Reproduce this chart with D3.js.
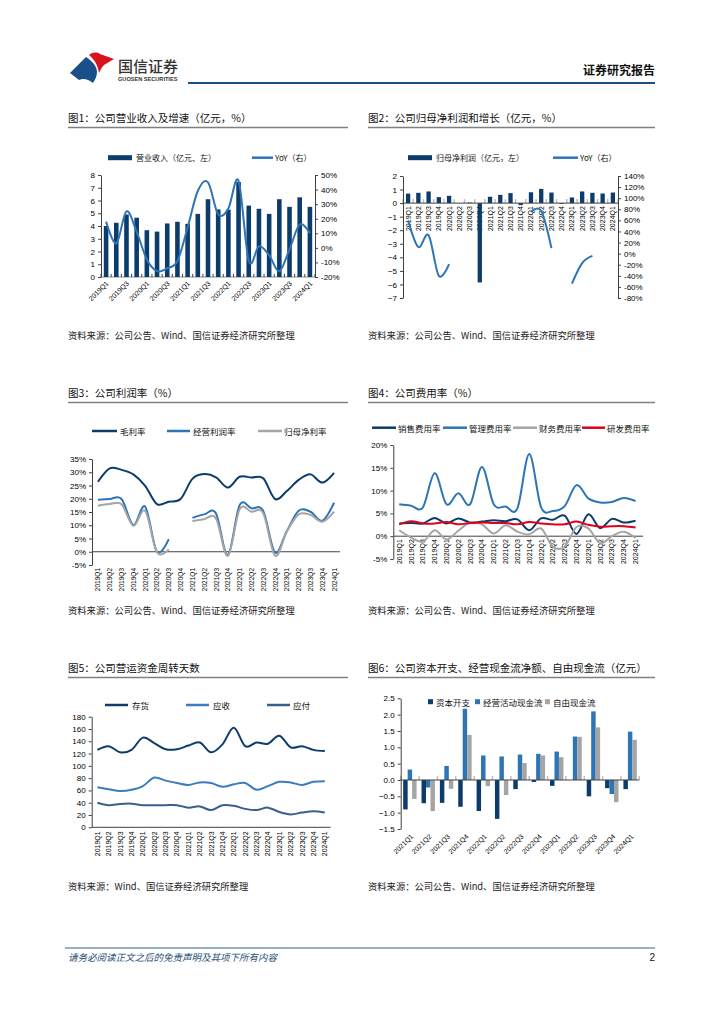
<!DOCTYPE html>
<html><head><meta charset="utf-8">
<script src="https://cdn.jsdelivr.net/npm/d3@7"></script>
<style>body{margin:0;background:#fff}svg{display:block}</style>
</head><body>
<script>
// ---------------- DATA ----------------
const quarters = ["2019Q1","2019Q2","2019Q3","2019Q4","2020Q1","2020Q2","2020Q3","2020Q4","2021Q1","2021Q2","2021Q3","2021Q4","2022Q1","2022Q2","2022Q3","2022Q4","2023Q1","2023Q2","2023Q3","2023Q4","2024Q1"];
const revenue = [4.0,4.25,4.9,4.65,3.67,3.56,4.2,4.33,4.17,4.95,6.1,5.3,5.28,7.45,5.6,5.35,4.95,6.1,5.5,6.25,5.5];
const revenueYoY = [18,3,25,11,-8,-16,-14,-9,14,39,45,23,27,46,-9,1,-5,-16,-1,16,10];
const netProfit = [0.7,0.76,0.86,0.44,0.54,0.0,0.04,-5.85,0.47,0.61,0.74,-0.15,0.8,1.05,0.78,-0.05,0.42,0.86,0.76,0.71,0.78];
const netProfitYoY = [60,12,33,-40,-19,null,null,null,null,null,null,null,75,77,10,null,-54,-17,-4,null,null];
const grossMargin = [26.4,31.5,30.9,29.2,24.9,18.0,18.9,19.9,27.5,29.3,28.1,24.2,28.3,28.0,27.7,19.9,22.9,27.1,29.2,26.1,29.8];
const opMargin = [19.6,19.9,19.9,10.1,17.0,0.0,4.8,null,12.8,14.1,14.4,-1.3,17.6,16.4,15.4,-0.3,7.8,15.5,15.1,11.7,18.5];
const netMargin = [17.4,18.0,17.9,9.8,15.4,-0.2,0.9,null,11.6,12.3,12.6,-1.6,16.0,15.1,14.5,-1.5,7.6,14.1,13.9,11.3,15.1];
const sellingRate = [2.8,2.9,2.8,4.0,2.8,3.9,3.0,3.2,3.5,3.3,3.7,1.3,3.9,3.6,4.5,0.5,4.8,1.8,3.8,3.0,3.4];
const adminRate = [7.0,6.7,6.3,13.8,7.0,9.4,7.0,15.2,7.0,6.5,6.1,18.0,6.4,5.5,6.6,11.2,8.3,7.4,7.5,8.4,7.7];
const financeRate = [1.3,-0.3,-1.2,1.3,-0.7,1.2,3.0,2.6,0.6,2.4,1.0,0.4,1.7,-2.3,-2.3,2.0,1.7,-1.5,0.0,1.0,-0.4];
const rdRate = [2.6,3.3,2.8,2.8,3.1,2.6,2.9,3.0,2.9,2.9,2.6,3.1,2.8,2.6,2.6,3.2,2.5,2.1,2.2,2.2,1.9];
const inventoryDays = [126,132,122,126,146,137,127,127,133,138,122,135,162,132,138,136,149,130,132,126,124];
const receivableDays = [65,62,59,61,67,81,76,72,69,73,72,66,70,72,61,67,74,73,69,74,75];
const payableDays = [40,36,38,38.5,36,36,36,36,32,34,28,36,35,30,28,32,25,21,24,26,24];
const cfQuarters = ["2021Q1","2021Q2","2021Q3","2021Q4","2022Q1","2022Q2","2022Q3","2022Q4","2023Q1","2023Q2","2023Q3","2023Q4","2024Q1"];
const capex = [-0.9,-0.71,-0.7,-0.82,-0.95,-1.19,-0.28,-0.06,-0.18,0,-0.5,-0.25,-0.28];
const operatingCF = [0.32,-0.23,0.43,2.18,0.75,0.72,0.78,0.8,0.87,1.33,2.1,-0.43,1.48];
const freeCF = [-0.58,-0.95,-0.27,1.38,-0.19,-0.46,0.52,0.75,0.7,1.32,1.61,-0.68,1.23];
const revTicks = [0,1,2,3,4,5,6,7,8];
const revYoYTicks = [-20,-10,0,10,20,30,40,50];
const npTicks = [-7,-6,-5,-4,-3,-2,-1,0,1,2];
const npYoYTicks = [-80,-60,-40,-20,0,20,40,60,80,100,120,140];
const marginTicks = [-5,0,5,10,15,20,25,30,35];
const expenseTicks = [-5,0,5,10,15,20];
const daysTicks = [0,20,40,60,80,100,120,140,160,180];
const cfTicks = [-1.5,-1.0,-0.5,0,0.5,1.0,1.5,2.0,2.5];

// ---------------- SETUP ----------------
const CJK = '"Noto Sans CJK SC","Noto Sans",sans-serif';
const NUM = '"Liberation Sans",Arial,sans-serif';
const NAVY = "#0c3c6c", BLUE = "#2e75b6", GRAY = "#a5a5a5", RED = "#e0001b", SLATE = "#3a5f8f", AX = "#404040";
const smooth = d3.curveCardinal.tension(0);

const svg = d3.select("body").append("svg").attr("width",724).attr("height",1024);
svg.append("rect").attr("width",724).attr("height",1024).attr("fill","#fff");

// header
svg.append("path").attr("d","M70,73 L86,57 C92,61 97,66 97,72 C97,76 95,80 93,83 C88,79 83,78 79,80 Z").attr("fill","#1b4f8a");
svg.append("path").attr("d","M89,55 C93,52 97,52 100,54 L114,59 L104,65 C101,68 100,71 99,73 C98,66 95,60 89,55 Z").attr("fill","#d7141e");
svg.append("text").attr("x",118).attr("y",72).text("国信证券").attr("font-family",CJK).attr("font-size",15).attr("font-weight",500).attr("fill","#333");
svg.append("text").attr("x",118).attr("y",81).text("GUOSEN SECURITIES").attr("font-family",NUM).attr("font-size",5.6).attr("font-weight","bold").attr("fill","#333");
svg.append("text").attr("x",655).attr("y",75).attr("text-anchor","end").text("证券研究报告").attr("font-family",CJK).attr("font-size",12).attr("font-weight","bold").attr("fill","#111");
svg.append("line").attr("x1",188).attr("x2",655).attr("y1",83).attr("y2",83).attr("stroke","#1f4e79").attr("stroke-width",2);

// footer
svg.append("line").attr("x1",65).attr("x2",655).attr("y1",948).attr("y2",948).attr("stroke","#2e5f8f").attr("stroke-width",1);
svg.append("text").attr("x",68).attr("y",961).text("请务必阅读正文之后的免责声明及其项下所有内容").attr("font-family",CJK).attr("font-size",9.5).attr("font-style","italic").attr("fill","#1f4e79");
svg.append("text").attr("x",655).attr("y",961).attr("text-anchor","end").text("2").attr("font-family",NUM).attr("font-size",10).attr("fill","#111");

function title(x, y, w, t){
  svg.append("text").attr("x",x).attr("y",y).text(t).attr("font-family",CJK).attr("font-size",10.5).attr("fill","#111");
  svg.append("line").attr("x1",x).attr("x2",x+w).attr("y1",y+5.5).attr("y2",y+5.5).attr("stroke","#808080").attr("stroke-width",1.5);
}
function source(x, y, t){
  svg.append("text").attr("x",x).attr("y",y).text(t).attr("font-family",CJK).attr("font-size",9.3).attr("fill","#222");
}
function styleAxis(g){
  g.select(".domain").attr("stroke",AX).attr("stroke-width",1);
  g.selectAll(".tick line").attr("stroke",AX);
  g.selectAll(".tick text").attr("font-family",NUM).attr("font-size",8).attr("fill","#000");
}
function legText(x,y,t,fs){
  svg.append("text").attr("x",x).attr("y",y).attr("dominant-baseline","central").text(t).attr("font-family",CJK).attr("font-size",fs||8.5).attr("fill","#111");
}
function legLine(x1,x2,y,c){
  svg.append("line").attr("x1",x1).attr("x2",x2).attr("y1",y).attr("y2",y).attr("stroke",c).attr("stroke-width",2.5);
}
function vertLabels(g, scale, cats, yTop, fs){
  g.selectAll("text.xl").data(cats).join("text").attr("class","xl")
    .attr("transform",d=>`translate(${scale(d)+scale.bandwidth()/2},${yTop}) rotate(-90)`)
    .attr("text-anchor","end").attr("dominant-baseline","central")
    .attr("font-family",NUM).attr("font-size",fs||7).attr("fill","#000").text(d=>d);
}

// ---------------- CHART 1 ----------------
title(68,122,280,"图1：公司营业收入及增速（亿元，%）");
{
  const g = svg.append("g");
  const x = d3.scaleBand().domain(quarters).range([101,315]).paddingInner(0.55).paddingOuter(0.275);
  const yL = d3.scaleLinear().domain([0,8]).range([277,175]);
  const yR = d3.scaleLinear().domain([-20,50]).range([277,175]);
  const step = x.step();
  g.append("line").attr("x1",101).attr("x2",315).attr("y1",yL(0)).attr("y2",yL(0)).attr("stroke","#8c8c8c");
  g.selectAll("line.tk").data(d3.range(22)).join("line").attr("class","tk")
    .attr("x1",i=>101+i*step).attr("x2",i=>101+i*step).attr("y1",yL(0)).attr("y2",yL(0)-3).attr("stroke",AX);
  g.selectAll("rect.b").data(revenue).join("rect").attr("class","b")
    .attr("x",(d,i)=>x(quarters[i])).attr("width",x.bandwidth())
    .attr("y",d=>yL(d)).attr("height",d=>yL(0)-yL(d)).attr("fill",NAVY);
  styleAxis(g.append("g").attr("transform","translate(101,0)").call(d3.axisLeft(yL).tickValues(revTicks).tickSize(3).tickSizeOuter(0)));
  styleAxis(g.append("g").attr("transform","translate(315,0)").call(d3.axisRight(yR).tickValues(revYoYTicks).tickSize(3).tickSizeOuter(0).tickFormat(d=>d+"%")));
  g.append("path").datum(revenueYoY).attr("fill","none").attr("stroke",BLUE).attr("stroke-width",2)
    .attr("d",d3.line().x((d,i)=>x(quarters[i])+x.bandwidth()/2).y(d=>yR(d)).curve(smooth));
  g.selectAll("text.xl").data(quarters.filter((d,i)=>i%2===0)).join("text").attr("class","xl")
    .attr("transform",d=>`translate(${x(d)+x.bandwidth()/2+3},${yL(0)+7}) rotate(-45)`)
    .attr("text-anchor","end").attr("font-family",NUM).attr("font-size",7).attr("fill","#000").text(d=>d);
  svg.append("rect").attr("x",108).attr("y",155.2).attr("width",24).attr("height",5).attr("fill",NAVY);
  legText(136,157.7,"营业收入（亿元、左）",8);
  legLine(252,273,157.7,BLUE);
  legText(275,157.7,"YoY（右）",8);
}
source(68,339,"资料来源：公司公告、Wind、国信证券经济研究所整理");

// ---------------- CHART 2 ----------------
title(368,122,287,"图2：公司归母净利润和增长（亿元，%）");
{
  const g = svg.append("g");
  const x = d3.scaleBand().domain(quarters).range([403,618]).paddingInner(0.58).paddingOuter(0.29);
  const yL = d3.scaleLinear().domain([-7,2]).range([298,176]);
  const yR = d3.scaleLinear().domain([-80,140]).range([298,176]);
  const step = x.step();
  g.selectAll("line.tk").data(d3.range(22)).join("line").attr("class","tk")
    .attr("x1",i=>403+i*step).attr("x2",i=>403+i*step).attr("y1",yL(0)).attr("y2",yL(0)-4).attr("stroke","#bfbfbf").attr("stroke-width",1.5);
  vertLabels(g, x, quarters, yL(0)+3, 7);
  g.selectAll("rect.b").data(netProfit).join("rect").attr("class","b")
    .attr("x",(d,i)=>x(quarters[i])).attr("width",x.bandwidth())
    .attr("y",d=>yL(Math.max(0,d))).attr("height",d=>Math.abs(yL(0)-yL(d))).attr("fill",NAVY);
  g.append("line").attr("x1",403).attr("x2",618).attr("y1",yL(0)).attr("y2",yL(0)).attr("stroke",AX);
  styleAxis(g.append("g").attr("transform","translate(403,0)").call(d3.axisLeft(yL).tickValues(npTicks).tickSize(3).tickSizeOuter(0)));
  styleAxis(g.append("g").attr("transform","translate(618,0)").call(d3.axisRight(yR).tickValues(npYoYTicks).tickSize(3).tickSizeOuter(0).tickFormat(d=>d+"%")));
  g.append("path").datum(netProfitYoY).attr("fill","none").attr("stroke",BLUE).attr("stroke-width",2)
    .attr("d",d3.line().defined(d=>d!==null).x((d,i)=>x(quarters[i])+x.bandwidth()/2).y(d=>yR(d)).curve(smooth));
  svg.append("rect").attr("x",408).attr("y",155.2).attr("width",24).attr("height",5).attr("fill",NAVY);
  legText(436,157.7,"归母净利润（亿元，左）",8);
  legLine(553,578,157.7,BLUE);
  legText(580,157.7,"YoY（右）",8);
}
source(368,339,"资料来源：公司公告、Wind、国信证券经济研究所整理");

// ---------------- CHART 3 ----------------
title(68,397,280,"图3：公司利润率（%）");
{
  const g = svg.append("g");
  const x = d3.scaleBand().domain(quarters).range([92,340]);
  const y = d3.scaleLinear().domain([-5,35]).range([565,459]);
  g.append("line").attr("x1",92).attr("x2",340).attr("y1",y(0)).attr("y2",y(0)).attr("stroke",AX);
  styleAxis(g.append("g").attr("transform","translate(92,0)").call(d3.axisLeft(y).tickValues(marginTicks).tickSize(3).tickSizeOuter(0).tickFormat(d=>d+"%")));
  vertLabels(g, x, quarters, 568, 6.5);
  const ln = d3.line().defined(d=>d!==null).x((d,i)=>x(quarters[i])+x.bandwidth()/2).y(d=>y(d)).curve(smooth);
  [[grossMargin,NAVY],[opMargin,BLUE],[netMargin,GRAY]].forEach(([s,c])=>{
    g.append("path").datum(s).attr("fill","none").attr("stroke",c).attr("stroke-width",2).attr("d",ln);
  });
  legLine(92,117,431,NAVY); legText(120,431,"毛利率");
  legLine(167,190,431,BLUE); legText(193,431,"经营利润率");
  legLine(258,282,431,GRAY); legText(284,431,"归母净利率");
}
source(68,614,"资料来源：公司公告、Wind、国信证券经济研究所整理");

// ---------------- CHART 4 ----------------
title(368,397,287,"图4：公司费用率（%）");
{
  const g = svg.append("g");
  const x = d3.scaleBand().domain(quarters).range([393.3,641.5]);
  const y = d3.scaleLinear().domain([-5,20]).range([559,445]);
  g.append("line").attr("x1",393.3).attr("x2",643).attr("y1",y(0)).attr("y2",y(0)).attr("stroke",AX);
  styleAxis(g.append("g").attr("transform","translate(393.3,0)").call(d3.axisLeft(y).tickValues(expenseTicks).tickSize(3).tickSizeOuter(0).tickFormat(d=>d+"%")));
  vertLabels(g, x, quarters, y(0)+3, 7);
  const ln = d3.line().x((d,i)=>x(quarters[i])+x.bandwidth()/2).y(d=>y(d)).curve(smooth);
  [[sellingRate,NAVY],[adminRate,BLUE],[financeRate,GRAY],[rdRate,RED]].forEach(([s,c])=>{
    g.append("path").datum(s).attr("fill","none").attr("stroke",c).attr("stroke-width",2).attr("d",ln);
  });
  legLine(372,396,427.7,NAVY); legText(398,427.7,"销售费用率");
  legLine(443,467,427.7,BLUE); legText(469,427.7,"管理费用率");
  legLine(513,537,427.7,GRAY); legText(539,427.7,"财务费用率");
  legLine(582,605,427.7,RED); legText(607,427.7,"研发费用率");
}
source(368,614,"资料来源：公司公告、Wind、国信证券经济研究所整理");

// ---------------- CHART 5 ----------------
title(68,672,280,"图5：公司营运资金周转天数");
{
  const g = svg.append("g");
  const x = d3.scaleBand().domain(quarters).range([91.7,330.5]);
  const y = d3.scaleLinear().domain([0,180]).range([827.3,716.7]);
  g.append("line").attr("x1",91.7).attr("x2",330.5).attr("y1",y(0)).attr("y2",y(0)).attr("stroke",AX);
  styleAxis(g.append("g").attr("transform","translate(91.7,0)").call(d3.axisLeft(y).tickValues(daysTicks).tickSize(3).tickSizeOuter(0)));
  vertLabels(g, x, quarters, y(0)+4, 7);
  const ln = d3.line().x((d,i)=>x(quarters[i])+x.bandwidth()/2).y(d=>y(d)).curve(smooth);
  [[inventoryDays,NAVY],[receivableDays,"#3b7bbf"],[payableDays,SLATE]].forEach(([s,c])=>{
    g.append("path").datum(s).attr("fill","none").attr("stroke",c).attr("stroke-width",2).attr("d",ln);
  });
  legLine(105,128,705,NAVY); legText(132,705,"存货");
  legLine(186,209,705,"#3b7bbf"); legText(213,705,"应收");
  legLine(267,290,705,SLATE); legText(293,705,"应付");
}
source(68,890,"资料来源：Wind、国信证券经济研究所整理");

// ---------------- CHART 6 ----------------
title(368,672,287,"图6：公司资本开支、经营现金流净额、自由现金流（亿元）");
{
  const g = svg.append("g");
  const x0 = d3.scaleBand().domain(cfQuarters).range([400.7,639.3]).paddingInner(0.27).paddingOuter(0.135);
  const series = [["资本开支",capex,NAVY],["经营活动现金流",operatingCF,BLUE],["自由现金流",freeCF,GRAY]];
  const x1 = d3.scaleBand().domain(series.map(s=>s[0])).range([0,x0.bandwidth()]);
  const y = d3.scaleLinear().domain([-1.5,2.5]).range([829,698.3]);
  const step = x0.step();
  g.selectAll("line.tk").data(d3.range(14)).join("line").attr("class","tk")
    .attr("x1",i=>400.7+i*step).attr("x2",i=>400.7+i*step).attr("y1",y(0)).attr("y2",y(0)-4).attr("stroke","#bfbfbf").attr("stroke-width",1.5);
  series.forEach(([name,vals,c])=>{
    g.selectAll(null).data(vals).join("rect")
      .attr("x",(d,i)=>x0(cfQuarters[i])+x1(name)).attr("width",x1.bandwidth())
      .attr("y",d=>y(Math.max(0,d))).attr("height",d=>Math.abs(y(0)-y(d))).attr("fill",c);
  });
  g.append("line").attr("x1",400.7).attr("x2",639.3).attr("y1",y(0)).attr("y2",y(0)).attr("stroke",AX);
  styleAxis(g.append("g").attr("transform","translate(400.7,0)").call(d3.axisLeft(y).tickValues(cfTicks).tickSize(3).tickSizeOuter(0).tickFormat(d3.format(".1f"))));
  g.selectAll("text.xl").data(cfQuarters).join("text").attr("class","xl")
    .attr("transform",d=>`translate(${x0(d)+x0.bandwidth()/2+4},${y(-1.5)+8}) rotate(-45)`)
    .attr("text-anchor","end").attr("font-family",NUM).attr("font-size",7).attr("fill","#000").text(d=>d);
  const lx = [428,475,545];
  series.forEach(([name,vals,c],k)=>{
    svg.append("rect").attr("x",lx[k]).attr("y",699.2).attr("width",5).attr("height",5).attr("fill",c);
    legText(lx[k]+8,701.7,name);
  });
}
source(368,890,"资料来源：公司公告、Wind、国信证券经济研究所整理");
</script>
</body></html>
